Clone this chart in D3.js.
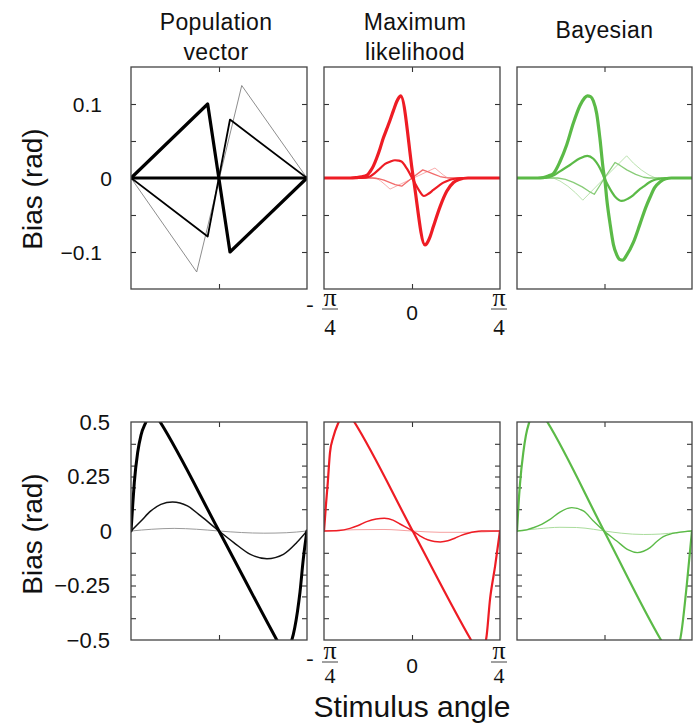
<!DOCTYPE html>
<html><head><meta charset="utf-8">
<script src="https://cdn.jsdelivr.net/npm/d3@7"></script>
<style>body{margin:0;background:#fff}svg{display:block}</style>
</head><body>
<svg id="c" width="699" height="723"></svg>
<script>
// ---------------- DATA ----------------
const titles = [["Population", "vector"], ["Maximum", "likelihood"], ["Bayesian"]];
const yLabel = "Bias (rad)";
const xLabel = "Stimulus angle";
const topYTickValues = [0.1, 0, -0.1];
const topYTickLabels = ["0.1", "0", "\u22120.1"];
const topYMinorTicks = [0.1, 0.05, -0.05, -0.1];
const botYTickValues = [0.5, 0.25, 0, -0.25, -0.5];
const botYTickLabels = ["0.5", "0.25", "0", "\u22120.25", "\u22120.5"];
const botYMinorTicks = [0.4, 0.3, 0.25, 0.2, 0.1, -0.1, -0.2, -0.25, -0.3, -0.4];
const xTickValues = [-Math.PI / 4, 0, Math.PI / 4];

// Top row: population vector
const pvTopFlat = [[-0.785, 0], [0.785, 0]];
const pvTopThin = [[-0.785, 0], [-0.199, -0.127], [0.203, 0.125], [0.785, 0]];
const pvTopMedium = [[-0.785, 0], [-0.101, -0.079], [0.098, 0.079], [0.785, 0]];
const pvTopThick = [[-0.785, 0], [-0.101, 0.1], [0.098, -0.1], [0.785, 0]];
// Top row: maximum likelihood
const mlTopFaint = [[-0.785, 0], [-0.32, 0], [-0.28, -0.004], [-0.24, -0.009], [-0.196, -0.015], [0, -0.001], [0.205, 0.0135], [0.24, 0.009], [0.28, 0.004], [0.32, 0], [0.785, 0]];
const mlTopThin = [[-0.785, 0], [-0.35, 0], [-0.3, -0.001], [-0.25, -0.003], [-0.2, -0.006], [-0.15, -0.009], [-0.092, -0.011], [0, 0], [0.096, 0.011], [0.15, 0.008], [0.2, 0.005], [0.25, 0.002], [0.3, 0.0005], [0.35, 0], [0.785, 0]];
const mlTopMedium = [[-0.785, 0], [-0.45, 0], [-0.375, 0.002], [-0.33, 0.007], [-0.285, 0.013], [-0.24, 0.019], [-0.196, 0.022], [-0.152, 0.024], [-0.12, 0.0235], [-0.092, 0.022], [-0.047, 0.013], [0.012, -0.003], [0.06, -0.016], [0.107, -0.0243], [0.15, -0.021], [0.19, -0.0162], [0.235, -0.011], [0.28, -0.0063], [0.33, -0.003], [0.37, -0.0014], [0.45, 0], [0.785, 0]];
const mlTopThick = [[-0.785, 0], [-0.55, 0], [-0.5, 0.0005], [-0.45, 0.0015], [-0.4, 0.004], [-0.375, 0.0085], [-0.345, 0.016], [-0.315, 0.027], [-0.285, 0.04], [-0.256, 0.054], [-0.226, 0.066], [-0.196, 0.078], [-0.166, 0.091], [-0.137, 0.103], [-0.115, 0.109], [-0.101, 0.111], [0.012, 0], [0.116, -0.0905], [0.13, -0.089], [0.16, -0.08], [0.19, -0.066], [0.25, -0.039], [0.31, -0.018], [0.37, -0.006], [0.42, -0.002], [0.5, 0], [0.785, 0]];
// Top row: Bayesian
const bayTopFaint = [[-0.785, 0], [-0.46, 0], [-0.4, -0.004], [-0.33, -0.011], [-0.26, -0.02], [-0.195, -0.03], [0, 0], [0.199, 0.03], [0.26, 0.02], [0.33, 0.011], [0.4, 0.004], [0.46, 0], [0.785, 0]];
const bayTopThin = [[-0.785, 0], [-0.42, 0], [-0.35, -0.002], [-0.28, -0.006], [-0.2, -0.012], [-0.14, -0.018], [-0.092, -0.022], [0, 0], [0.095, 0.021], [0.14, 0.017], [0.2, 0.011], [0.28, 0.005], [0.35, 0.001], [0.4, 0], [0.785, 0]];
const bayTopMedium = [[-0.785, 0], [-0.55, 0], [-0.5, 0.001], [-0.45, 0.004], [-0.4, 0.009], [-0.31, 0.0176], [-0.22, 0.0266], [-0.154, 0.03], [-0.1, 0.026], [-0.04, 0.013], [0.005, -0.002], [0.05, -0.015], [0.1, -0.026], [0.155, -0.031], [0.21, -0.028], [0.259, -0.023], [0.31, -0.016], [0.349, -0.0118], [0.4, -0.006], [0.44, -0.003], [0.5, -0.001], [0.55, 0], [0.785, 0]];
const bayTopThick = [[-0.785, 0], [-0.6, 0], [-0.55, 0.0005], [-0.5, 0.003], [-0.459, 0.006], [-0.4, 0.022], [-0.339, 0.045], [-0.28, 0.074], [-0.22, 0.098], [-0.18, 0.108], [-0.154, 0.111], [-0.125, 0.11], [-0.1, 0.104], [-0.07, 0.087], [-0.04, 0.052], [-0.011, 0.011], [0.005, -0.005], [0.02, -0.028], [0.05, -0.062], [0.08, -0.09], [0.11, -0.104], [0.135, -0.11], [0.163, -0.111], [0.2, -0.104], [0.259, -0.087], [0.319, -0.062], [0.37, -0.04], [0.409, -0.026], [0.45, -0.013], [0.5, -0.005], [0.55, -0.001], [0.6, 0], [0.785, 0]];

// Bottom row
const pvBotThin = [[-0.785, 0], [-0.6, 0.008], [-0.4, 0.012], [-0.2, 0.008], [0, 0], [0.2, -0.007], [0.4, -0.01], [0.6, -0.008], [0.785, 0]];
const pvBotMedium = [[-0.785, 0], [-0.696, 0.046], [-0.608, 0.092], [-0.519, 0.122], [-0.415, 0.133], [-0.282, 0.115], [-0.164, 0.069], [0, 0], [0.132, -0.053], [0.28, -0.107], [0.428, -0.127], [0.575, -0.107], [0.694, -0.053], [0.785, 0]];
const pvBotThick = [[-0.785, 0], [-0.77, 0.12], [-0.756, 0.222], [-0.726, 0.36], [-0.696, 0.44], [-0.652, 0.5], [-0.6, 0.56], [-0.525, 0.5], [0, 0], [0.516, -0.5], [0.58, -0.56], [0.65, -0.5], [0.7, -0.37], [0.723, -0.28], [0.752, -0.13], [0.785, 0]];
const mlBotThin = [[-0.785, 0], [-0.5, 0.006], [-0.25, 0.007], [0, 0], [0.25, -0.006], [0.5, -0.006], [0.785, 0]];
const mlBotMedium = [[-0.785, 0], [-0.65, 0.002], [-0.553, 0.012], [-0.48, 0.025], [-0.404, 0.043], [-0.32, 0.055], [-0.247, 0.058], [-0.17, 0.05], [-0.107, 0.032], [0.006, 0], [0.07, -0.022], [0.14, -0.04], [0.2, -0.048], [0.253, -0.05], [0.32, -0.045], [0.382, -0.033], [0.44, -0.02], [0.501, -0.01], [0.56, -0.003], [0.62, 0], [0.785, 0]];
const mlBotThick = [[-0.785, 0], [-0.768, 0.12], [-0.752, 0.22], [-0.732, 0.36], [-0.703, 0.43], [-0.654, 0.5], [-0.59, 0.56], [-0.515, 0.5], [0.006, 0], [0.527, -0.5], [0.595, -0.56], [0.66, -0.5], [0.697, -0.31], [0.742, -0.16], [0.785, 0]];
const bayBotThin = [[-0.785, 0], [-0.6, 0.01], [-0.4, 0.017], [-0.25, 0.016], [-0.1, 0.008], [0, 0], [0.15, -0.01], [0.35, -0.016], [0.5, -0.014], [0.65, -0.007], [0.785, 0]];
const bayBotMedium = [[-0.785, 0], [-0.7, 0.005], [-0.639, 0.015], [-0.56, 0.032], [-0.489, 0.053], [-0.4, 0.087], [-0.294, 0.107], [-0.19, 0.092], [-0.1, 0.046], [-0.004, 0], [0.11, -0.046], [0.214, -0.087], [0.295, -0.099], [0.35, -0.093], [0.409, -0.076], [0.47, -0.048], [0.528, -0.026], [0.59, -0.014], [0.648, -0.008], [0.72, -0.003], [0.785, 0]];
const bayBotThick = [[-0.785, 0], [-0.772, 0.12], [-0.758, 0.22], [-0.729, 0.36], [-0.705, 0.44], [-0.675, 0.5], [-0.6, 0.57], [-0.513, 0.5], [-0.004, 0], [0.507, -0.5], [0.6, -0.58], [0.678, -0.5], [0.738, -0.25], [0.785, 0]];

// ---------------- LAYOUT / STYLE ----------------
const svg = d3.select("#c");
const cols = [{x0: 131, x1: 307}, {x0: 324, x1: 500}, {x0: 517, x1: 692}];
const rows = [
  {y0: 67, y1: 289, domain: [-0.15, 0.15], minor: topYMinorTicks, ticks: topYTickValues, labels: topYTickLabels, labelX: 102},
  {y0: 422, y1: 640, domain: [-0.5, 0.5], minor: botYMinorTicks, ticks: botYTickValues, labels: botYTickLabels, labelX: 110}
];
const RED = "#ee1c24", GREEN = "#5bba47";
const SANS = "Liberation Sans, Arial, Helvetica, sans-serif";
const series = [
  [
    [{d: pvTopThin, c: "#808080", w: 0.9, lin: true}, {d: pvTopMedium, c: "#000", w: 1.8, lin: true}, {d: pvTopFlat, c: "#000", w: 3, lin: true}, {d: pvTopThick, c: "#000", w: 3.2, lin: true}],
    [{d: mlTopFaint, c: "#f7a3a3", w: 0.9, lin: true}, {d: mlTopThin, c: "#f26a6a", w: 1.3, lin: true}, {d: mlTopMedium, c: RED, w: 2.2}, {d: mlTopThick, c: RED, w: 3.2}],
    [{d: bayTopFaint, c: "#b2dfa6", w: 0.9, lin: true}, {d: bayTopThin, c: "#88cc78", w: 1.3, lin: true}, {d: bayTopMedium, c: GREEN, w: 2.2}, {d: bayTopThick, c: GREEN, w: 3.2}]
  ],
  [
    [{d: pvBotThin, c: "#9a9a9a", w: 1}, {d: pvBotMedium, c: "#111", w: 1.5}, {d: pvBotThick, c: "#000", w: 3}],
    [{d: mlBotThin, c: "#f6a0a0", w: 1}, {d: mlBotMedium, c: RED, w: 1.5}, {d: mlBotThick, c: RED, w: 2.2}],
    [{d: bayBotThin, c: "#aadc9c", w: 1}, {d: bayBotMedium, c: GREEN, w: 1.4}, {d: bayBotThick, c: GREEN, w: 2.2}]
  ]
];

const defs = svg.append("defs");
rows.forEach((r, ri) => {
  cols.forEach((c, ci) => {
    const x = d3.scaleLinear().domain([-Math.PI / 4, Math.PI / 4]).range([c.x0, c.x1]);
    const y = d3.scaleLinear().domain(r.domain).range([r.y1, r.y0]);
    const id = "clip" + ri + ci;
    defs.append("clipPath").attr("id", id).append("rect")
      .attr("x", c.x0).attr("y", r.y0).attr("width", c.x1 - c.x0).attr("height", r.y1 - r.y0);
    const g = svg.append("g");
    const tl = 5;
    const axL = d3.axisLeft(y).tickValues(r.minor).tickSize(-tl).tickFormat("");
    const axR = d3.axisRight(y).tickValues(r.minor).tickSize(-tl).tickFormat("");
    const axB = d3.axisBottom(x).tickValues([0]).tickSize(-tl).tickFormat("");
    const axT = d3.axisTop(x).tickValues([0]).tickSize(-tl).tickFormat("");
    [[axL, `translate(${c.x0},0)`], [axR, `translate(${c.x1},0)`], [axB, `translate(0,${r.y1})`], [axT, `translate(0,${r.y0})`]].forEach(([ax, t]) => {
      const a = g.append("g").attr("transform", t).call(ax);
      a.select(".domain").remove();
      a.selectAll("line").attr("stroke", "#333").attr("stroke-width", 1.1);
    });
    const cg = g.append("g").attr("clip-path", `url(#${id})`);
    series[ri][ci].forEach(s => {
      const line = d3.line().x(p => x(p[0])).y(p => y(p[1])).curve(s.lin ? d3.curveLinear : d3.curveMonotoneX);
      cg.append("path").attr("d", line(s.d)).attr("fill", "none").attr("stroke", s.c)
        .attr("stroke-width", s.w).attr("stroke-linejoin", "round").attr("stroke-linecap", "round");
    });
    g.append("rect").attr("x", c.x0).attr("y", r.y0).attr("width", c.x1 - c.x0).attr("height", r.y1 - r.y0)
      .attr("fill", "none").attr("stroke", "#444").attr("stroke-width", 1.3);

    if (ci === 0) {
      r.ticks.forEach((v, i) => {
        svg.append("text").attr("x", v === 0 ? 112 : r.labelX).attr("y", y(v)).attr("dy", "0.36em")
          .attr("text-anchor", "end").attr("font-family", SANS)
          .attr("font-size", ri === 0 ? 21 : 22).attr("fill", "#111").text(r.labels[i]);
      });
      svg.append("text").attr("transform", `translate(42,${ri === 0 ? 189 : 534}) rotate(-90)`)
        .attr("text-anchor", "middle").attr("font-family", SANS)
        .attr("font-size", 28).attr("fill", "#111").text(yLabel);
    }
    if (ci === 1) {
      const off = ri === 0 ? {pi: 17, bar: 20, four: 46, zero: 31, dash: 22} : {pi: 19, bar: 22, four: 43, zero: 33, dash: 25};
      const fourSize = ri === 0 ? 23 : 22;
      xTickValues.forEach(v => {
        const px = x(v);
        const gx = svg.append("g").attr("font-family", "Liberation Serif, Times New Roman, serif").attr("fill", "#111");
        if (v === 0) {
          svg.append("text").attr("x", px).attr("y", r.y1 + off.zero).attr("text-anchor", "middle")
            .attr("font-family", SANS).attr("font-size", 21).attr("fill", "#111").text("0");
        } else {
          const fx = v < 0 ? px + 6 : px - 1;
          if (v < 0) gx.append("text").attr("x", px - 14).attr("y", r.y1 + off.dash).attr("text-anchor", "middle").attr("font-size", 22).text("-");
          gx.append("text").attr("x", fx).attr("y", r.y1 + off.pi).attr("text-anchor", "middle").attr("font-size", 26).text("\u03c0");
          gx.append("line").attr("x1", fx - 8).attr("x2", fx + 8).attr("y1", r.y1 + off.bar).attr("y2", r.y1 + off.bar).attr("stroke", "#111").attr("stroke-width", 0.8);
          gx.append("text").attr("x", fx).attr("y", r.y1 + off.four).attr("text-anchor", "middle").attr("font-size", fourSize).text("4");
        }
      });
    }
    if (ri === 0) {
      const t = titles[ci];
      const cx = (c.x0 + c.x1) / 2 + (ci === 1 ? 3 : ci === 0 ? -3 : 0);
      const base = t.length === 2 ? [30, 60] : [38];
      t.forEach((s, k) => {
        svg.append("text").attr("x", cx).attr("y", base[k]).attr("text-anchor", "middle")
          .attr("font-family", SANS).attr("font-size", 23)
          .attr("letter-spacing", "0.4px").attr("fill", "#111").text(s);
      });
    }
  });
});
svg.append("text").attr("x", 412).attr("y", 717).attr("text-anchor", "middle")
  .attr("font-family", SANS).attr("font-size", 30).attr("fill", "#111").text(xLabel);
</script>
</body></html>
